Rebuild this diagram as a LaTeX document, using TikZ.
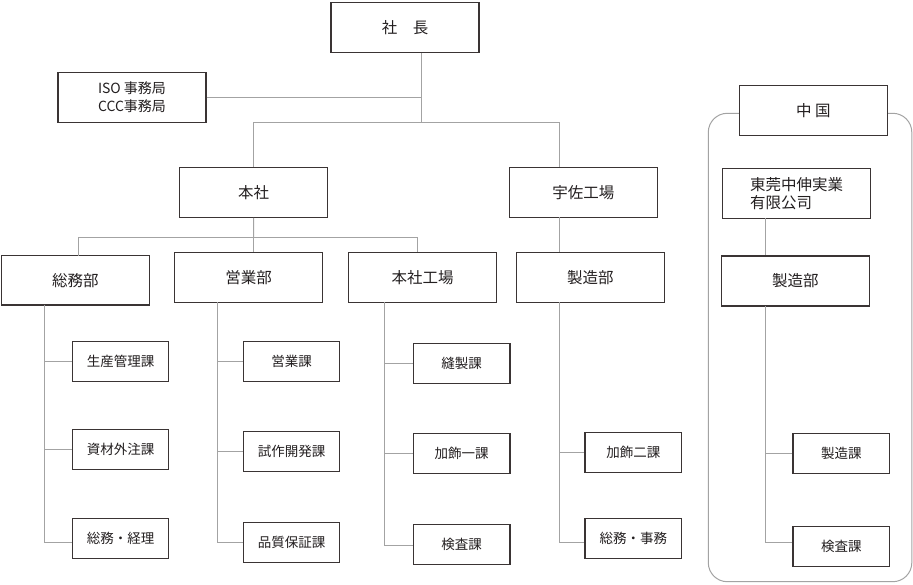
\documentclass[tikz,border=0pt]{standalone}
\usepackage{fontspec}
\newfontfamily\jp{Noto Sans CJK JP}
\definecolor{boxc}{HTML}{3A3434}
\definecolor{linec}{HTML}{A3A3A3}
\definecolor{txtc}{HTML}{231F20}
\begin{document}
\begin{tikzpicture}[x=1pt,y=-1pt,
  box/.style={draw=boxc, line width=1.3pt, fill=white, inner sep=0pt, align=center, text=txtc},
  big/.style={box, minimum width=148pt, minimum height=50pt, font=\jp\fontsize{15.5}{18}\selectfont},
  small/.style={box, minimum width=96.4pt, minimum height=40pt, font=\jp\fontsize{13.5}{16}\selectfont},
  conn/.style={draw=linec, line width=1pt}]
\useasboundingbox (0,0) rectangle (913,585);
% container for China
\draw[conn, rounded corners=19pt] (708.3,113.3) rectangle (911.8,581.7);
% junction coordinates
\coordinate (jA) at (421.7,122.3);
\coordinate (jB) at (253.7,237.3);
\coordinate (usaTop) at (559.3,167.3);
\coordinate (usaBot) at (559.3,217.3);
\coordinate (c1) at (78.3,255.7);
\coordinate (c2) at (253.7,252.3);
\coordinate (c3) at (417.7,252.3);
\coordinate (c4) at (559.3,252.3);
\coordinate (v1) at (44.3,305);
\coordinate (v2) at (217.7,302.3);
\coordinate (v3) at (384.7,302.3);
\coordinate (v4) at (559.7,302.3);
\coordinate (v5) at (765.3,306);
\coordinate (tgTop) at (765.3,218.3);
% nodes
\node[big] (shacho) at (405,27.3) {社　長};
\node[big, font=\jp\fontsize{14}{18}\selectfont] (iso) at (132,97.3) {ISO 事務局\\CCC事務局};
\node[big] (honsha) at (253.5,192.3) {本社};
\node[big] (usa) at (583.3,192.3) {宇佐工場};
\node[big, minimum height=49.3pt] (soumu) at (75.3,280.3) {総務部};
\node[big] (eigyo) at (248.5,277.3) {営業部};
\node[big] (kojo) at (422.5,277.3) {本社工場};
\node[big] (seizoU) at (590.3,277.3) {製造部};
\node[big] (china) at (813.3,110.3) {中 国};
\node[big, align=left] (tg) at (796.5,193.3) {東莞中伸実業\\有限公司};
\node[big] (seizoC) at (795.3,281) {製造部};
\node[small] (s11) at (120.5,361.3) {生産管理課};
\node[small] (s12) at (120.5,449.8) {資材外注課};
\node[small] (s13) at (120.5,538.3) {総務・経理};
\node[small] (s21) at (291.5,361.3) {営業課};
\node[small] (s22) at (291.5,451.8) {試作開発課};
\node[small] (s23) at (291.5,542.3) {品質保証課};
\node[small] (s31) at (461.7,363.3) {縫製課};
\node[small] (s32) at (461.7,453.5) {加飾一課};
\node[small] (s33) at (461.7,544.3) {検査課};
\node[small] (s41) at (633.3,452.3) {加飾二課};
\node[small] (s42) at (633.3,538.3) {総務・事務};
\node[small] (s51) at (841.3,453.3) {製造課};
\node[small] (s52) at (841.3,546.7) {検査課};
% connectors
\draw[conn] (jA |- shacho.south) -- (jA);
\draw[conn] (iso.east) -- (iso.east -| jA);
\draw[conn] (honsha.north) |- (jA) -| (usaTop);
\draw[conn] (honsha.south) -- (jB);
\draw[conn] (c1) |- (jB) -| (c3);
\draw[conn] (jB) -- (c2);
\draw[conn] (usaBot) -- (c4);
\draw[conn] (tgTop) -- (tgTop |- seizoC.north);
\draw[conn] (v1) |- (s11.west);
\draw[conn] (v1) |- (s12.west);
\draw[conn] (v1) |- ([yshift=-4pt]s13.west);
\draw[conn] (v2) |- (s21.west);
\draw[conn] (v2) |- (s22.west);
\draw[conn] (v2) |- (s23.west);
\draw[conn] (v3) |- (s31.west);
\draw[conn] (v3) |- (s32.west);
\draw[conn] (v3) |- ([yshift=-1.4pt]s33.west);
\draw[conn] (v4) |- (s41.west);
\draw[conn] (v4) |- ([yshift=-4pt]s42.west);
\draw[conn] (v5) |- (s51.west);
\draw[conn] (v5) |- ([yshift=4.4pt]s52.west);
\end{tikzpicture}
\end{document}
